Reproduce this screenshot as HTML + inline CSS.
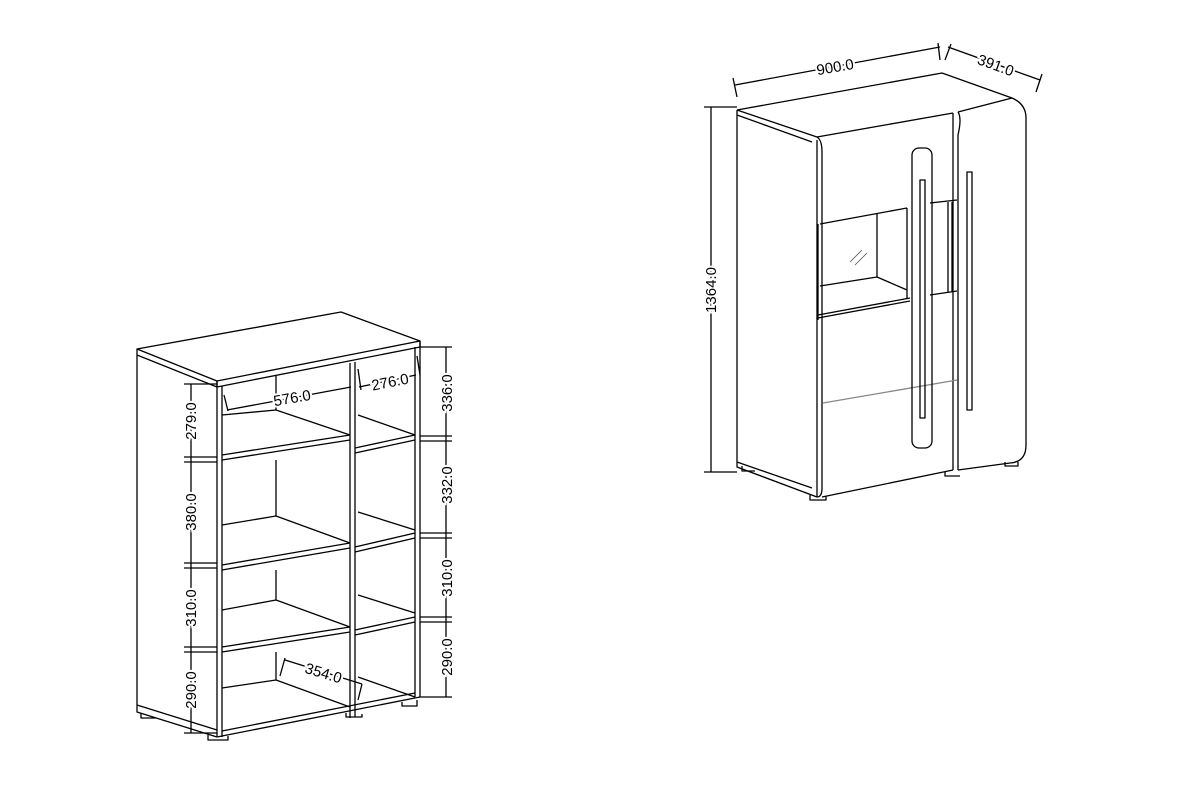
<!DOCTYPE html>
<html><head><meta charset="utf-8"><style>
html,body{margin:0;padding:0;background:#fff;}
svg{display:block;}
text{font-family:"Liberation Sans",sans-serif;font-size:15px;fill:#000;}
</style></head><body>
<svg width="1200" height="800" viewBox="0 0 1200 800" xmlns="http://www.w3.org/2000/svg">
<g stroke="#000" stroke-width="1.3" fill="none" stroke-linejoin="round">
<!-- LEFT CABINET -->
<path d="M137,349 L341,312 L420,341 L217,381 Z"/>
<path d="M137,349 L137,355 L217,387 L217,381"/>
<path d="M217,387 L420,347 L420,341"/>
<path d="M137,355 L137,712 L217,737"/>
<path d="M137,705 L217,730"/>
<path d="M217,381 L217,737 M222,386 L222,737"/>
<path d="M217,737 L420,697 M222,731 L415,693"/>
<path d="M415,347 L415,697 M420,341 L420,697"/>
<path d="M350,363 L350,718 M355,362 L355,717"/>
<path d="M276,376 L276,410 M276,460 L276,516 M276,570 L276,600 M276,652 L276,680"/>
<path d="M222,415 L276,410 L350,435 M222,455 L350,435 M222,460 L350,440"/>
<path d="M222,525 L276,516 L350,543 M222,565 L350,543 M222,570 L350,548"/>
<path d="M222,610 L276,600 L350,627 M222,647 L350,627 M222,652 L350,632"/>
<path d="M222,688 L276,680 L350,707"/>
<path d="M358,415 L415,435 M355,448 L415,435 M355,453 L415,440"/>
<path d="M358,512 L415,530 M355,547 L415,533 M355,552 L415,538"/>
<path d="M358,595 L415,613 M355,630 L415,617 M355,635 L415,622"/>
<path d="M358,677 L415,697"/>
<path d="M141,713 L141,718 L155,718 L155,717 M208,735 L208,740 L228,740 L228,736 M346,713 L346,717 L362,717 L362,714 M402,702 L402,706 L417,706 L417,700"/>
<path d="M191,384 L191,733 M184,384 L217,384 M184,457 L217,457 M184,462 L217,462 M184,563 L217,563 M184,568 L217,568 M184,647 L217,647 M184,652 L217,652 M184,733 L217,733"/>
<path d="M446,347 L446,697 M420,347 L452,347 M420,436 L452,436 M420,441 L452,441 M420,533 L452,533 M420,538 L452,538 M420,617 L452,617 M420,622 L452,622 M420,697 L452,697"/>
<path d="M227,410 L351,387 M224,395 L228,411 M358,369 L361,390"/>
<path d="M359,387 L416,375 M417,356 L420,375"/>
<path d="M285,660 L362,684 M285,658 L280,676 M362,684 L358,700"/>
<!-- RIGHT CABINET -->
<path d="M737,110 L942,73 L1012,98 Q1026,104 1026,118 L1026,445 Q1026,462 1010,463 L958,470"/>
<path d="M737,110 L817,137 L953,113 M958,112 L1012,98"/>
<path d="M737,115 L812,142"/>
<path d="M737,110 L737,467 L817,497 M737,462 L812,488"/>
<path d="M817,137 Q822,140 822,152 L822,488 Q822,497 817,497"/>
<path d="M817,140 L817,497"/>
<path d="M822,497 L953,470"/>
<path d="M953,113 L953,470 M958,112 Q962,118 958,135 L958,470"/>
<path d="M820,224 L907,208 M877,214 L877,277 M820,286 L877,277 L907,290 M818,315 L910,298 M818,318 L910,301 M907,208 L907,298 M818,224 L818,320"/>
<path d="M930,203 L957,200 M930,295 L957,291 M948,202 L948,292 M952,202 L952,292"/>
<path d="M850,262 L862,250 M855,265 L867,253" stroke-width="0.8" stroke="#555"/>
<path d="M823,403 L957,380" stroke="#888"/>
<rect x="912" y="148" width="20" height="300" rx="7"/>
<rect x="920" y="180" width="5" height="238"/>
<rect x="967" y="172" width="5" height="238"/>
<path d="M742,466 L742,471 L755,471 M810,495 L810,500 L826,500 L826,496 M945,472 L945,476 L960,476 M1005,462 L1005,466 L1018,466 L1018,462"/>
<path d="M711,107 L711,472 M704,107 L737,107 M704,472 L737,472"/>
<path d="M735,85 L940,47 M733,78 L737,97 M938,43 L940,60"/>
<path d="M948,47 L1040,80 M951,44 L945,60 M1042,74 L1036,92"/>
</g>
<g style="paint-order:stroke;stroke:#fff;stroke-width:4px">
<text transform="translate(196,421) rotate(-90)" text-anchor="middle">279.0</text>
<text transform="translate(196,512) rotate(-90)" text-anchor="middle">380.0</text>
<text transform="translate(196,608) rotate(-90)" text-anchor="middle">310.0</text>
<text transform="translate(196,690) rotate(-90)" text-anchor="middle">290.0</text>
<text transform="translate(452,393) rotate(-90)" text-anchor="middle">336.0</text>
<text transform="translate(452,485) rotate(-90)" text-anchor="middle">332.0</text>
<text transform="translate(452,578) rotate(-90)" text-anchor="middle">310.0</text>
<text transform="translate(452,657) rotate(-90)" text-anchor="middle">290.0</text>
<text transform="translate(293,403) rotate(-10)" text-anchor="middle">576.0</text>
<text transform="translate(391,387) rotate(-11)" text-anchor="middle">276.0</text>
<text transform="translate(322,678) rotate(17)" text-anchor="middle">354.0</text>
<text transform="translate(716,290) rotate(-90)" text-anchor="middle">1364.0</text>
<text transform="translate(836,72) rotate(-10)" text-anchor="middle">900.0</text>
<text transform="translate(994,70) rotate(20)" text-anchor="middle">391.0</text>
</g>
</svg>
</body></html>
